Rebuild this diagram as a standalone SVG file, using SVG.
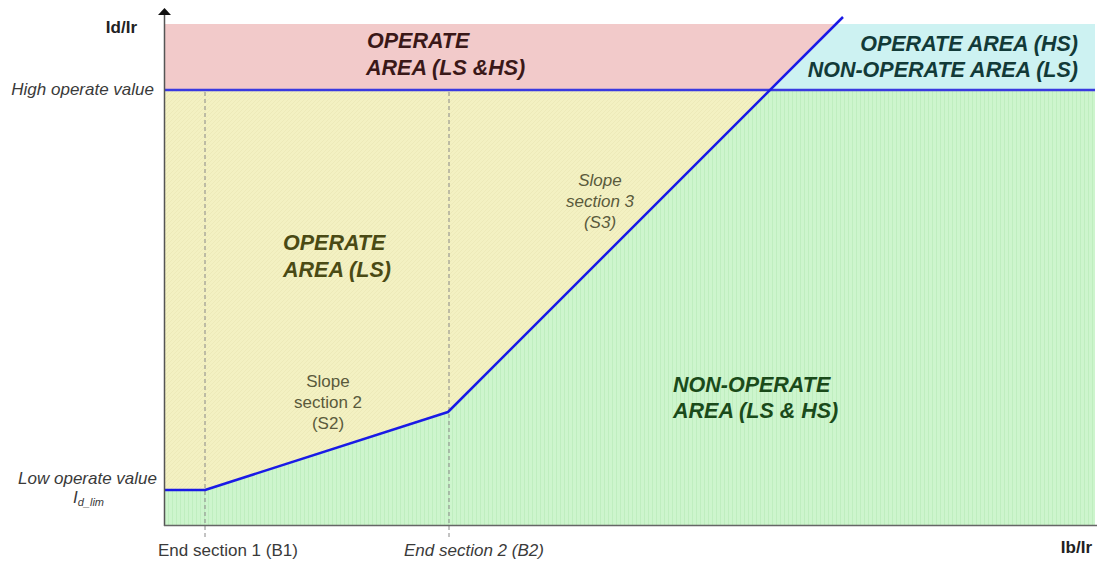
<svg xmlns="http://www.w3.org/2000/svg" width="1099" height="562" viewBox="0 0 1099 562">
<style>
.lbl{font-family:"Liberation Sans",Arial,sans-serif;font-size:17px;fill:#3a3a3a}
.it{font-style:italic}
.bd{font-weight:bold;fill:#222}
.area{font-family:"Liberation Sans",Arial,sans-serif;font-size:21.5px;font-weight:bold;font-style:italic}
.slope{font-family:"Liberation Sans",Arial,sans-serif;font-size:17px;fill:#5a5a3c}
.dash{stroke:#888;stroke-width:1;stroke-dasharray:4,3;fill:none}
.curve{stroke:#1a1ae6;stroke-width:2.5;fill:none;stroke-linejoin:round}
</style>
<defs>
<pattern id="vstripe" width="4" height="4" patternUnits="userSpaceOnUse">
<rect width="4" height="4" fill="#cdf5cd"/>
<rect width="1" height="4" fill="#bfeebf"/>
</pattern>
<pattern id="hatch" width="4" height="4" patternUnits="userSpaceOnUse">
<rect width="4" height="4" fill="#f3f1c2"/>
<path d="M0,4 L4,0" stroke="#ebe8b6" stroke-width="0.8"/>
</pattern>
</defs>
<rect width="1099" height="562" fill="#fff"/>
<g id="regions">
<polygon id="pink" points="165,24 836,24 770,90 165,90" fill="#f2caca"/>
<polygon id="cyan" points="836,24 1095,24 1095,90 770,90" fill="#cdf2f2"/>
<polygon id="yellow" points="165,90 770,90 448,412 205,490 165,490" fill="url(#hatch)"/>
<polygon id="green" points="165,490 205,490 448,412 770,90 1095,90 1095,525 165,525" fill="url(#vstripe)"/>
</g>
<g id="connectors">
<line class="dash" x1="205" y1="92" x2="205" y2="540"/>
<line class="dash" x1="449" y1="92" x2="449" y2="540"/>
<line x1="165" y1="90" x2="1095" y2="90" stroke="#3a3ae0" stroke-width="2.5"/>
<polyline class="curve" points="165,490 205,490 448,412 843,17"/>
<line x1="164.5" y1="526" x2="164.5" y2="13" stroke="#555" stroke-width="1.5"/>
<polygon points="164.5,8 171,15 158,15" fill="#111"/>
<line x1="164" y1="525.5" x2="1097" y2="525.5" stroke="#666" stroke-width="1.5"/>
</g>
<g id="axis-labels">
<text class="lbl bd" x="137" y="33" text-anchor="end">Id/Ir</text>
<text class="lbl bd" x="1092" y="553" text-anchor="end">Ib/Ir</text>
<text class="lbl it" x="154" y="95" text-anchor="end">High operate value</text>
<text class="lbl it" x="157" y="484" text-anchor="end">Low operate value</text>
<text class="lbl it" x="73" y="503">I<tspan font-size="11" dy="3">d_lim</tspan></text>
<text class="lbl" x="158" y="556">End section 1 (B1)</text>
<text class="lbl it" x="404" y="556">End section 2 (B2)</text>
</g>
<g id="node-operate-lshs">
<text class="area" x="367" y="48" fill="#3a1818">OPERATE</text>
<text class="area" x="366" y="75" fill="#3a1818">AREA (LS &amp;HS)</text>
</g>
<g id="node-operate-hs">
<text class="area" x="1078" y="51" text-anchor="end" fill="#123a38">OPERATE AREA (HS)</text>
<text class="area" x="1078" y="77" text-anchor="end" fill="#123a38">NON-OPERATE AREA (LS)</text>
</g>
<g id="node-operate-ls">
<text class="area" x="283" y="250" fill="#4a4a14">OPERATE</text>
<text class="area" x="283" y="277" fill="#4a4a14">AREA (LS)</text>
</g>
<g id="node-nonoperate">
<text class="area" x="673" y="392" fill="#1a4a1a">NON-OPERATE</text>
<text class="area" x="673" y="418" fill="#1a4a1a">AREA (LS &amp; HS)</text>
</g>
<g id="node-slope2">
<text class="slope" x="328" y="387" text-anchor="middle">Slope</text>
<text class="slope" x="328" y="408" text-anchor="middle">section 2</text>
<text class="slope" x="328" y="429" text-anchor="middle">(S2)</text>
</g>
<g id="node-slope3">
<text class="slope it" x="600" y="186" text-anchor="middle">Slope</text>
<text class="slope it" x="600" y="207" text-anchor="middle">section 3</text>
<text class="slope it" x="600" y="228" text-anchor="middle">(S3)</text>
</g>
</svg>
